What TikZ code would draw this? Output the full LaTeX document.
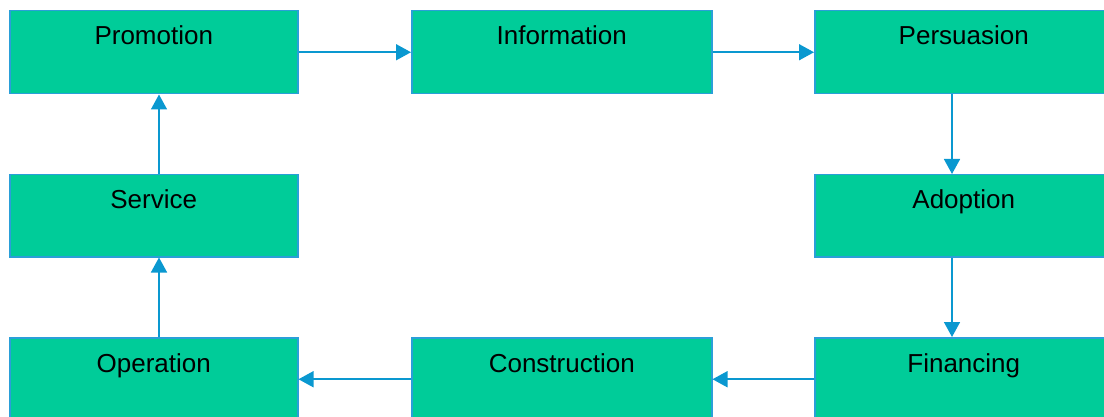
\documentclass[tikz,border=0pt]{standalone}
\usepackage{fontspec}
\setmainfont{Liberation Sans}
\usetikzlibrary{arrows.meta}
\definecolor{boxfill}{HTML}{00CC99}
\definecolor{boxline}{HTML}{2A9FD8}
\definecolor{arrowc}{HTML}{0A98D0}
\tikzset{
  stagebox/.style={draw=boxline, line width=1.5pt, fill=boxfill, rectangle, inner sep=0pt, anchor=north west},
  stagelbl/.style={anchor=base, font=\fontsize{26}{30}\selectfont, text=black, inner sep=0pt},
  flow/.style={draw=arrowc, line width=1.6pt, -{Triangle[length=15pt,width=16pt]}}
}
\begin{document}
\begin{tikzpicture}[x=1pt,y=-1pt]
\useasboundingbox (0,0) rectangle (1104,417);
\clip (0,0) rectangle (1104,417);
% boxes
\node[stagebox, minimum width=288pt, minimum height=83pt] (prom) at (9,10) {};
\node[stagebox, minimum width=300pt, minimum height=83pt] (info) at (411,10) {};
\node[stagebox, minimum width=298pt, minimum height=83pt] (pers) at (814,10) {};
\node[stagebox, minimum width=288pt, minimum height=82pt] (serv) at (9,174) {};
\node[stagebox, minimum width=298pt, minimum height=82pt] (adop) at (814,174) {};
\node[stagebox, minimum width=288pt, minimum height=83pt] (oper) at (9,337) {};
\node[stagebox, minimum width=300pt, minimum height=83pt] (cons) at (411,337) {};
\node[stagebox, minimum width=298pt, minimum height=83pt] (fina) at (814,337) {};
% labels
\node[stagelbl] at ([yshift=-35pt]prom.north) {Promotion};
\node[stagelbl] at ([yshift=-35pt]info.north) {Information};
\node[stagelbl] at ([yshift=-35pt]pers.north) {Persuasion};
\node[stagelbl] at ([yshift=-35pt]serv.north) {Service};
\node[stagelbl] at ([yshift=-35pt]adop.north) {Adoption};
\node[stagelbl] at ([yshift=-35pt]oper.north) {Operation};
\node[stagelbl] at ([yshift=-35pt]cons.north) {Construction};
\node[stagelbl] at ([yshift=-35pt]fina.north) {Financing};
% connectors
\draw[flow] (prom.east) -- (info.west);
\draw[flow] (info.east) -- (pers.west);
\draw[flow] (pers.south -| 952,0) -- (adop.north -| 952,0);
\draw[flow] (adop.south -| 952,0) -- (fina.north -| 952,0);
\draw[flow] (fina.west) -- (cons.east);
\draw[flow] (cons.west) -- (oper.east);
\draw[flow] (oper.north -| 159,0) -- (serv.south -| 159,0);
\draw[flow] (serv.north -| 159,0) -- (prom.south -| 159,0);
\end{tikzpicture}
\end{document}
